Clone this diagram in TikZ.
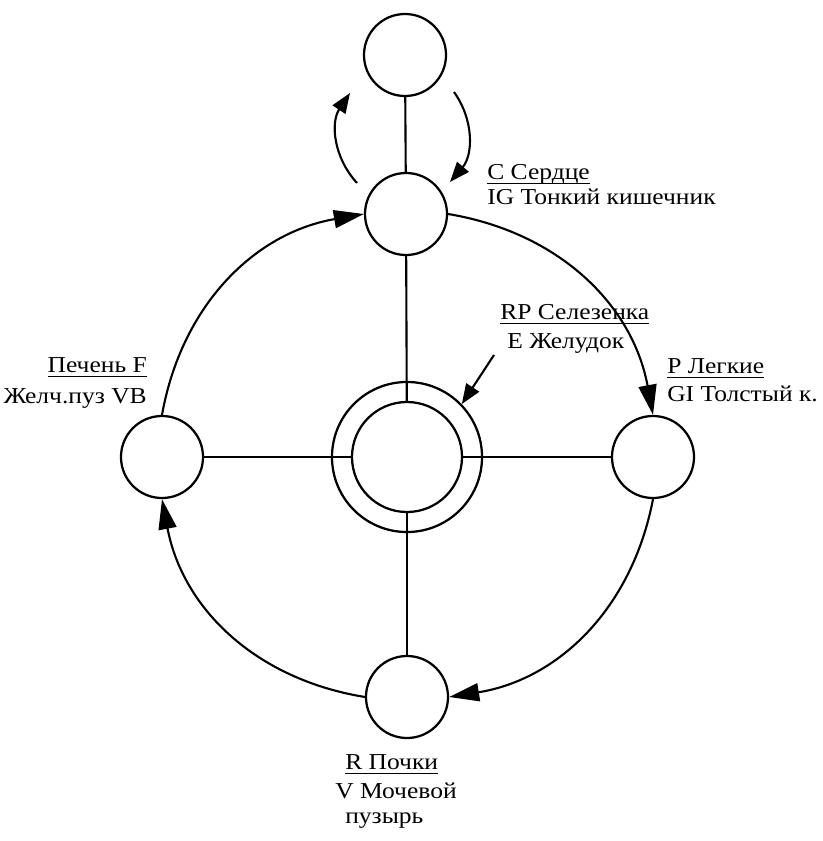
\documentclass[tikz,border=0pt]{standalone}
\usepackage{fontspec}
\setmainfont{Liberation Serif}[FakeStretch=1.12]
\usetikzlibrary{arrows.meta}

% underline at a fixed depth, crossing the descenders
\newcommand\uln[1]{\setbox0\hbox{#1}\rlap{\rule[-0.13cm]{\wd0}{0.04cm}}\box0}

\tikzset{
  organnode/.style={
    circle, draw, line width=1.6pt, minimum size=2.05cm, inner sep=0pt
  },
  linkline/.style={line width=1.5pt},
  cyclearrow/.style={-{Triangle[length=0.75cm, width=0.45cm]}, line width=1.5pt},
  smallarrow/.style={-{Triangle[length=0.5cm, width=0.38cm]}, line width=1.5pt},
  organlabel/.style={inner sep=0pt, font=\fontsize{16.2pt}{19pt}\selectfont},
}

\begin{document}
\begin{tikzpicture}[x=0.025cm, y=-0.025cm]
  \path[use as bounding box, fill=white] (0,0) rectangle (822,841);

  % ── Organs ──
  \node[organnode] (T) at (405,55)  {};
  \node[organnode] (H) at (406,214) {};
  \node[organnode] (L) at (162,457) {};
  \node[organnode] (R) at (653,457) {};
  \node[organnode] (B) at (407,697) {};
  \node[organnode, minimum size=3.75cm] (Co) at (407,457) {};
  \node[organnode, minimum size=2.75cm] (Ci) at (407,457) {};

  % ── Cross ──
  \draw[linkline] (T) -- (H);
  \draw[linkline] (H) -- (Ci);
  \draw[linkline] (Ci) -- (B);
  \draw[linkline] (L) -- (Ci);
  \draw[linkline] (Ci) -- (R);

  % ── Cycle ──
  \draw[cyclearrow] (H.east)  to[bend left=35] (R.north);
  \draw[cyclearrow] (R.south) to[bend left=35] (B.east);
  \draw[cyclearrow] (B.west)  to[bend left=35] (L.south);
  \draw[cyclearrow] (L.north) to[bend left=35] (H.west);

  % ── Loop round the top ──
  \coordinate (la) at (357,183);
  \coordinate (lb) at (350,93);
  \coordinate (ra) at (454,92);
  \coordinate (rb) at (450,182);
  \draw[smallarrow] (la) to[bend left=38] (lb);
  \draw[smallarrow] (ra) to[bend left=38] (rb);

  % ── Pointer to the centre ──
  \coordinate (rp) at (494,355);
  \draw[smallarrow] (rp) -- (Co.44);

  % ── Labels ──
  \node[organlabel, anchor=base west] (H1) at (487,179) {\uln{C Сердце}};
  \node[organlabel, anchor=base west] (H2) at (487,204) {IG Тонкий кишечник};
  \node[organlabel, anchor=base west] (C1) at (500,319) {\uln{RP Селезенка}};
  \node[organlabel, anchor=base west] (C2) at (507,348) {E Желудок};
  \node[organlabel, anchor=base west] (R1) at (667,373) {\uln{P Легкие}};
  \node[organlabel, anchor=base west] (R2) at (667,401) {GI Толстый к.};
  \node[organlabel, anchor=base east] (L1) at (147,372) {\uln{Печень F}};
  \node[organlabel, anchor=base east] (L2) at (147,403) {Желч.пуз VB};
  \node[organlabel, anchor=base west] (B1) at (345,769) {\uln{R Почки}};
  \node[organlabel, anchor=base west] (B2) at (335,798) {V Мочевой};
  \node[organlabel, anchor=base west] (B3) at (345,823) {пузырь};

\end{tikzpicture}
\end{document}
